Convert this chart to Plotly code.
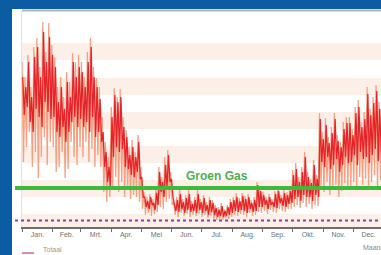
import plotly.graph_objects as go

# ---------------- data ----------------
month_labels = ["Jan.", "Feb.", "Mrt.", "Apr.", "Mei", "Jun.", "Jul.", "Aug.", "Sep.", "Okt.", "Nov.", "Dec."]
month_starts = [0, 31, 59, 90, 120, 151, 181, 212, 243, 273, 304, 334, 365]
step_days = 3  # one high/low pair every 3 days

salmon_high = [
    165, 150, 172, 140, 180, 189, 160, 205, 175, 204,   # Jan
    182, 170, 140, 150, 130, 155, 145, 174, 165, 172,   # Feb
    165, 150, 175, 189, 160, 149, 140, 110, 85, 70,     # Mrt
    120, 139, 130, 138, 110, 97, 80, 87, 75, 92,        # Apr
    60, 35, 30, 33, 28, 38, 60, 50, 70, 77,             # Mei
    55, 25, 30, 37, 28, 32, 37, 26, 30, 37,             # Jun
    28, 32, 25, 30, 27, 22, 20, 24, 18, 22,             # Jul
    28, 30, 34, 29, 34, 31, 33, 27, 30, 45,             # Aug
    40, 35, 30, 33, 28, 36, 39, 32, 37, 35,             # Sep
    40, 57, 64, 50, 60, 75, 55, 48, 67, 52,             # Okt
    114, 95, 109, 90, 100, 114, 92, 85, 105, 110,       # Nov
    110, 98, 120, 127, 105, 115, 140, 118, 130, 142, 125, 135,  # Dec
]
salmon_low = [
    65, 80, 95, 60, 75, 49, 70, 90, 62, 85,
    80, 55, 60, 75, 49, 58, 85, 70, 62, 80,
    70, 85, 65, 78, 60, 72, 60, 35, 25, 30,
    40, 50, 35, 45, 30, 38, 28, 32, 30, 25,
    18, 12, 14, 11, 13, 15, 20, 18, 25, 28,
    22, 12, 10, 14, 11, 13, 10, 12, 11, 13,
    10, 12, 9, 11, 8, 7, 8, 7, 9, 8,
    10, 12, 11, 13, 12, 10, 14, 11, 12, 15,
    14, 16, 13, 17, 15, 14, 18, 16, 15, 18,
    18, 20, 22, 19, 24, 20, 23, 18, 22, 21,
    40, 35, 45, 32, 38, 42, 30, 36, 44, 38,
    40, 45, 38, 50, 42, 48, 37, 45, 52, 40, 47, 50,
]
red_high = [
    150, 140, 165, 130, 170, 180, 150, 195, 165, 190,
    172, 160, 125, 140, 118, 145, 130, 165, 150, 160,
    155, 140, 165, 180, 150, 140, 128, 95, 75, 60,
    110, 132, 125, 130, 100, 90, 72, 80, 70, 85,
    50, 30, 26, 30, 24, 34, 55, 45, 62, 72,
    48, 22, 27, 33, 25, 29, 33, 23, 27, 33,
    25, 29, 22, 27, 24, 19, 17, 21, 16, 20,
    25, 27, 30, 26, 31, 28, 30, 24, 27, 42,
    36, 32, 27, 30, 25, 33, 36, 29, 34, 32,
    36, 52, 58, 45, 55, 70, 50, 44, 62, 48,
    108, 88, 102, 84, 94, 108, 86, 80, 98, 104,
    104, 92, 114, 120, 100, 108, 133, 112, 124, 136, 118, 128,
]
red_low = [
    112, 120, 105, 95, 118, 110, 100, 125, 115, 108,
    110, 95, 90, 100, 85, 95, 105, 110, 100, 108,
    100, 105, 95, 110, 90, 95, 85, 60, 45, 40,
    70, 80, 75, 78, 60, 58, 52, 50, 55, 48,
    30, 20, 18, 22, 17, 22, 35, 30, 40, 45,
    30, 16, 15, 18, 14, 17, 15, 16, 14, 17,
    14, 16, 12, 15, 12, 10, 11, 10, 11, 12,
    14, 16, 15, 17, 16, 14, 18, 15, 16, 20,
    20, 22, 18, 22, 20, 19, 24, 21, 20, 23,
    24, 28, 30, 26, 32, 30, 30, 26, 32, 30,
    65, 60, 70, 58, 62, 68, 55, 62, 70, 64,
    65, 72, 62, 75, 68, 70, 64, 72, 78, 66, 74, 76,
]
groen_gas_level = 39
purple_level = 6.5
band_ranges = [(0, 13), (30, 47), (64, 81), (98, 115), (132, 149), (167, 184)]

# ---------------- build series ----------------
def zigzag(highs, lows, offset):
    xs, ys = [], []
    for k, (h, l) in enumerate(zip(highs, lows)):
        xs += [k * step_days + offset, k * step_days + offset + step_days / 2]
        ys += [h, l]
    return xs, ys

sx, sy = zigzag(salmon_high, salmon_low, 0.0)
rx, ry = zigzag(red_high, red_low, 0.75)

W, H = 381, 255
ML, MR, MT, MB = 22, 0, 11, 28
PW, PH = W - ML - MR, H - MT - MB

def px_x(p):  # pixel x -> paper x
    return (p - ML) / PW

def px_y(p):  # pixel y -> paper y
    return (H - MB - p) / PH

fig = go.Figure()
fig.add_trace(go.Scatter(x=sx, y=sy, mode="lines", line=dict(color="#f2a283", width=1.3),
                         showlegend=False, hoverinfo="skip"))
fig.add_trace(go.Scatter(x=rx, y=ry, mode="lines", line=dict(color="#e5232a", width=1.3),
                         showlegend=False, hoverinfo="skip"))

shapes = []
# blue frame
blue = "#0c5ca4"
shapes.append(dict(type="rect", xref="paper", yref="paper", x0=px_x(-5), x1=px_x(12),
                   y0=px_y(260), y1=px_y(-5), fillcolor=blue, line=dict(width=0), layer="below"))
shapes.append(dict(type="rect", xref="paper", yref="paper", x0=px_x(-5), x1=px_x(390),
                   y0=px_y(9), y1=px_y(-5), fillcolor=blue, line=dict(width=0), layer="below"))
# bands
for lo, hi in band_ranges:
    shapes.append(dict(type="rect", xref="paper", yref="y", x0=0, x1=1, y0=lo, y1=hi,
                       fillcolor="#fcefe7", line=dict(width=0), layer="below"))
# top gray line
shapes.append(dict(type="line", xref="paper", yref="paper", x0=0, x1=1, y0=px_y(10.5), y1=px_y(10.5),
                   line=dict(color="#b3b3b3", width=2)))
# green line
shapes.append(dict(type="line", xref="paper", yref="y", x0=px_x(15), x1=1,
                   y0=groen_gas_level, y1=groen_gas_level, line=dict(color="#3cba3c", width=4)))
# purple dotted line
shapes.append(dict(type="line", xref="paper", yref="y", x0=px_x(15), x1=1,
                   y0=purple_level, y1=purple_level, line=dict(color="#8e3d9e", width=2, dash="dot")))
# legend line
shapes.append(dict(type="line", xref="paper", yref="paper", x0=px_x(22), x1=px_x(34),
                   y0=px_y(253), y1=px_y(253), line=dict(color="#d98ea3", width=2)))

annotations = [
    dict(text="Groen Gas", x=197, y=51, xref="x", yref="y", showarrow=False,
         font=dict(family="Liberation Sans", size=12, color="#4cb04c", weight="bold")),
    dict(text="Maand", x=px_x(361), y=px_y(247), xref="paper", yref="paper", xanchor="left",
         yanchor="middle", showarrow=False, font=dict(family="Liberation Sans", size=7, color="#888888")),
    dict(text="Totaal", x=px_x(41), y=px_y(250), xref="paper", yref="paper", xanchor="left",
         yanchor="middle", showarrow=False, font=dict(family="Liberation Sans", size=7, color="#999999")),
]

centers = [(a + b) / 2 for a, b in zip(month_starts[:-1], month_starts[1:])]

fig.update_layout(
    width=W, height=H,
    margin=dict(l=ML, r=MR, t=MT, b=MB, pad=0),
    paper_bgcolor="white", plot_bgcolor="white",
    shapes=shapes, annotations=annotations, showlegend=False,
    xaxis=dict(range=[0, 362], tickmode="array", tickvals=centers, ticktext=month_labels,
               ticks="", showgrid=False, zeroline=False, showline=True, linecolor="#6e6e6e",
               linewidth=2, tickfont=dict(family="Liberation Sans", size=7, color="#707070"),
               minor=dict(tickmode="array", tickvals=month_starts, ticks="outside", ticklen=3,
                          tickcolor="#6e6e6e", tickwidth=1, showgrid=False),
               fixedrange=True),
    yaxis=dict(range=[0, PH], showticklabels=False, ticks="", showgrid=False, zeroline=False,
               showline=True, linecolor="#e2e2e2", linewidth=1, fixedrange=True),
)

fig.write_html("out.html", config={"displayModeBar": False},
               post_script="document.body.style.margin='0';document.body.style.overflow='hidden';")
